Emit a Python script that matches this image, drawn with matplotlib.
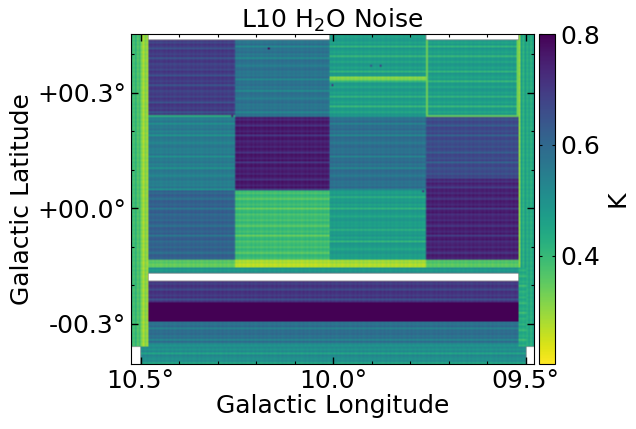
"""L10 H2O noise map: survey tiles with scan-line striping."""

import matplotlib
matplotlib.use("Agg")
import matplotlib.pyplot as plt
import numpy as np

# map extent in degrees
LON_MAX, LON_MIN = 10.525, 9.478
LAT_MAX, LAT_MIN = 0.453, -0.404
CELL = 0.005

# tile edges, degrees
LON_EDGES = [10.481, 10.255, 10.008, 9.761, 9.522]
LAT_EDGES = [0.438, 0.240, 0.047, -0.134]

# mean noise per tile (K), rows top to bottom, columns left to right
TILE_NOISE = [
    [0.69, 0.57, 0.47, 0.47],
    [0.55, 0.75, 0.58, 0.66],
    [0.61, 0.39, 0.47, 0.74],
]

# row-by-row offsets from the tile mean
STRIPES_A = [0.01, -0.02, 0.02, 0.0, -0.04, 0.02, 0.01, -0.01, 0.02, -0.05, 0.01, 0.02, -0.02, 0.0]
STRIPES_B = [0.0, -0.01, 0.02, -0.05, 0.01, 0.0, 0.02, -0.02, 0.01, -0.06, 0.02, 0.01, 0.0, -0.03, 0.01, 0.02, -0.01]
STRIPES_C = [0.01, -0.02, 0.01, -0.06, 0.02, 0.0, -0.02, 0.01, -0.07, 0.01, 0.01, -0.03, 0.02]
COL_RIPPLE = [0.0, 0.008, -0.006, 0.01, -0.004, 0.006, -0.008]
TILE_STRIPES = [
    [STRIPES_A, STRIPES_B, STRIPES_C, STRIPES_C],
    [STRIPES_B, STRIPES_A, STRIPES_B, STRIPES_A],
    [STRIPES_A, STRIPES_A, STRIPES_B, STRIPES_A],
]

# vertical columns at the map edges
LEFT_COLUMNS = [0.42, 0.37, 0.42, 0.36, 0.39, 0.32, 0.28, 0.32, 0.29]
RIGHT_COLUMNS = [0.31, 0.46, 0.41, 0.47, 0.42, 0.46, 0.41, 0.46]

# full-width bands: lat top, lat bottom, noise, stripes
BAND_LATS = [(-0.152, -0.168), (-0.188, -0.242), (-0.242, -0.292), (-0.292, -0.349), (-0.349, -0.404)]
BAND_NOISE = [0.49, 0.70, 0.84, 0.58, 0.51]
BAND_STRIPES = [STRIPES_A, STRIPES_A, [0.0], STRIPES_B, STRIPES_C]

# brighter seam under the third row, per tile
SEAM_NOISE = [0.35, 0.27, 0.28, 0.36]

# dark specks: lon, lat, K
SPECK_LON = [10.17, 9.88, 10.005, 9.905, 10.265, 9.77]
SPECK_LAT = [0.416, 0.372, 0.322, 0.372, 0.242, 0.048]
SPECK_K = [0.80, 0.70, 0.72, 0.66, 0.75, 0.72]

nx = int(round((LON_MAX - LON_MIN) / CELL))
ny = int(round((LAT_MAX - LAT_MIN) / CELL))
img = np.full((ny, nx), np.nan)


def ix(lon):
    return int(round((LON_MAX - lon) / CELL))


def iy(lat):
    return int(round((LAT_MAX - lat) / CELL))


def fill(lon_hi, lon_lo, lat_hi, lat_lo, level, stripes):
    x0, x1, y0, y1 = ix(lon_hi), ix(lon_lo), iy(lat_hi), iy(lat_lo)
    rows = np.resize(stripes, y1 - y0)
    ripple = np.resize(COL_RIPPLE, x1 - x0)
    img[y0:y1, x0:x1] = level + rows[:, None] + ripple[None, :]


# edge columns
for i, val in enumerate(LEFT_COLUMNS):
    x = ix(LON_MAX) + i
    img[:iy(-0.357), x] = val + np.resize(COL_RIPPLE, iy(-0.357))
for i, val in enumerate(RIGHT_COLUMNS):
    x = ix(LON_EDGES[4]) + i
    img[:iy(-0.357), x] = val + np.resize(COL_RIPPLE, iy(-0.357))

# tiles
for r, row in enumerate(TILE_NOISE):
    for c, level in enumerate(row):
        fill(LON_EDGES[c], LON_EDGES[c + 1], LAT_EDGES[r], LAT_EDGES[r + 1], level, TILE_STRIPES[r][c])

# third column reaches the map top, with a bright band across it
fill(LON_EDGES[2], LON_EDGES[3], LAT_MAX, LAT_EDGES[0], 0.47, STRIPES_C)
fill(LON_EDGES[2], LON_EDGES[3], 0.345, 0.334, 0.31, [0.0, 0.01])

# darker lower part of tile 2,4
fill(LON_EDGES[3], LON_EDGES[4], 0.079, LAT_EDGES[2], 0.73, STRIPES_A)

# seams
for c, level in enumerate(SEAM_NOISE):
    fill(LON_EDGES[c], LON_EDGES[c + 1], LAT_EDGES[3], -0.152, level, [0.0, 0.015, -0.01])

# full-width bands, the last one wider
for (lat_hi, lat_lo), level, stripes in zip(BAND_LATS, BAND_NOISE, BAND_STRIPES):
    fill(LON_EDGES[0], LON_EDGES[4], lat_hi, lat_lo, level, stripes)
fill(10.50, 9.499, -0.357, LAT_MIN, 0.51, STRIPES_C)
fill(LON_EDGES[4], 9.50, -0.152, -0.357, 0.43, STRIPES_A)

# yellow-green tile outlines in the top right tile, green line under the first tile
img[iy(LAT_EDGES[0]):iy(LAT_EDGES[1]), ix(LON_EDGES[3])] = 0.33
img[iy(LAT_EDGES[0]):iy(LAT_EDGES[1]), ix(LON_EDGES[4]) - 1] = 0.33
img[iy(LAT_EDGES[1]) - 1, ix(LON_EDGES[3]):ix(LON_EDGES[4])] = 0.34
img[iy(LAT_EDGES[1]) - 1, ix(LON_EDGES[0]):ix(LON_EDGES[1])] = 0.42

for lon, lat, val in zip(SPECK_LON, SPECK_LAT, SPECK_K):
    img[iy(lat), ix(lon)] = val

fig = plt.figure(figsize=(6.36, 4.29), dpi=100)
ax = fig.add_axes([131 / 636, 1 - 364 / 429, 403 / 636, 330 / 429])
im = ax.imshow(
    img, cmap="viridis_r", vmin=0.205, vmax=0.8, origin="upper", aspect="auto",
    extent=[LON_MAX, LON_MIN, LAT_MIN, LAT_MAX], interpolation="bilinear",
)

ax.set_xticks([10.5, 10.0, 9.5])
ax.set_xticklabels(["10.5°", "10.0°", "09.5°"])
ax.set_xticks([10.4, 10.3, 10.2, 10.1, 9.9, 9.8, 9.7, 9.6], minor=True)
ax.set_yticks([0.3, 0.0, -0.3])
ax.set_yticklabels(["+00.3°", "+00.0°", "-00.3°"])
ax.set_yticks([0.4, 0.2, 0.1, -0.1, -0.2], minor=True)
ax.tick_params(which="both", direction="in", top=True, right=True)
ax.tick_params(which="major", length=5, width=1.0, labelsize=18)
ax.tick_params(which="minor", length=2.5, width=0.8)
ax.set_xlabel("Galactic Longitude", fontsize=18, labelpad=1)
ax.set_ylabel("Galactic Latitude", fontsize=18, labelpad=2)
ax.set_title("L10 H$_2$O Noise", fontsize=18, pad=2)

cax = fig.add_axes([539 / 636, 1 - 364 / 429, 16 / 636, 330 / 429])
cb = fig.colorbar(im, cax=cax)
cb.set_ticks([0.8, 0.6, 0.4])
cb.ax.tick_params(direction="in", length=2.5, width=0.8, labelsize=18, left=True, right=True, pad=4)
cb.set_label("K", fontsize=18, labelpad=4)

plt.savefig("out.png", dpi=100)
